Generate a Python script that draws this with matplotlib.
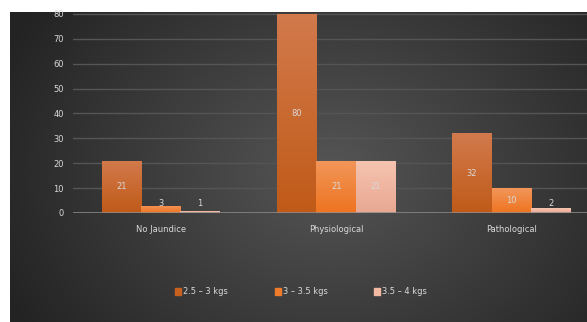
import numpy as np
import matplotlib
matplotlib.use("Agg")
import matplotlib.pyplot as plt
from matplotlib.colors import LinearSegmentedColormap
from matplotlib.patches import Patch

categories = ["No Jaundice", "Physiological", "Pathological"]
series_names = ["2.5 – 3 kgs", "3 – 3.5 kgs", "3.5 – 4 kgs"]
light_weight = [21, 80, 32]
mid_weight = [3, 21, 10]
heavy_weight = [1, 21, 2]
y_ticks = [0, 10, 20, 30, 40, 50, 60, 70, 80]

# top / bottom shades for each series' vertical gradient
bar_shades = [("#d27a4c", "#c05a18"), ("#f2965a", "#ee7420"), ("#f6c4b0", "#e8a892")]
legend_colors = ["#c8611f", "#f07b2a", "#f4b9a3"]
text_col = "#d9d9d9"
fs = 6.7

plt.rcParams["font.family"] = ["DejaVu Sans"]
plt.rcParams["font.stretch"] = "condensed"

W, H = 587, 322
fig = plt.figure(figsize=(W / 100, H / 100), dpi=100)
fig.patch.set_facecolor("white")

# dark backdrop with a soft radial highlight
bg = fig.add_axes([10 / W, 0, 1 - 10 / W, (H - 12) / H])
bg.set_axis_off()
yy, xx = np.mgrid[0:310, 0:577]
r = np.sqrt(((xx - 320) / 330.0) ** 2 + ((yy - 160) / 260.0) ** 2)
shade = np.clip(0.335 - 0.18 * r, 0.14, 0.335)
bg.imshow(np.dstack([shade] * 3), aspect="auto", extent=(0, 1, 0, 1), zorder=0)
bg.set_xlim(0, 1)
bg.set_ylim(0, 1)

ax = fig.add_axes([73 / W, (H - 213) / H, (W - 73) / W, 200 / H])
ax.patch.set_alpha(0)
x = np.arange(len(categories))
w = 0.225

all_series = [light_weight, mid_weight, heavy_weight]
for i, vals in enumerate(all_series):
    bars = ax.bar(x + (i - 1) * w, vals, w, color="none", edgecolor="none", zorder=3)
    cmap = LinearSegmentedColormap.from_list("g%d" % i, [bar_shades[i][1], bar_shades[i][0]])
    for b, v in zip(bars, vals):
        x0, y0 = b.get_x(), b.get_y()
        grad = np.linspace(0, 1, 64).reshape(-1, 1)
        im = ax.imshow(grad, cmap=cmap, origin="lower", aspect="auto",
                       extent=(x0, x0 + b.get_width(), y0, y0 + b.get_height()), zorder=3)
        im.set_clip_path(b)
        ax.text(x0 + b.get_width() / 2, max(v / 2, 4.0), str(v), ha="center", va="center",
                color=text_col, fontsize=fs, zorder=5)

ax.set_xlim(-0.5, 2.43)
ax.set_ylim(0, 80.4)
ax.set_yticks(y_ticks)
ax.set_xticks(x)
ax.set_xticklabels(categories)
ax.tick_params(length=0, colors=text_col, labelsize=fs)
ax.tick_params(axis="x", pad=9)
ax.tick_params(axis="y", pad=6.5)
ax.grid(axis="y", color="#555555", lw=1, zorder=1)
for s in ax.spines.values():
    s.set_visible(False)
ax.axhline(0, color="#8c8c8c", lw=1.8, zorder=4)

handles = [Patch(color=c) for c in legend_colors]
leg = fig.legend(handles, series_names, loc="center", bbox_to_anchor=(301 / W, 1 - 292 / H),
                 ncol=3, frameon=False, fontsize=fs, handlelength=0.65, handleheight=0.85,
                 handletextpad=0.2, columnspacing=5.05)
for t in leg.get_texts():
    t.set_color(text_col)

fig.savefig("out.png", dpi=100)
